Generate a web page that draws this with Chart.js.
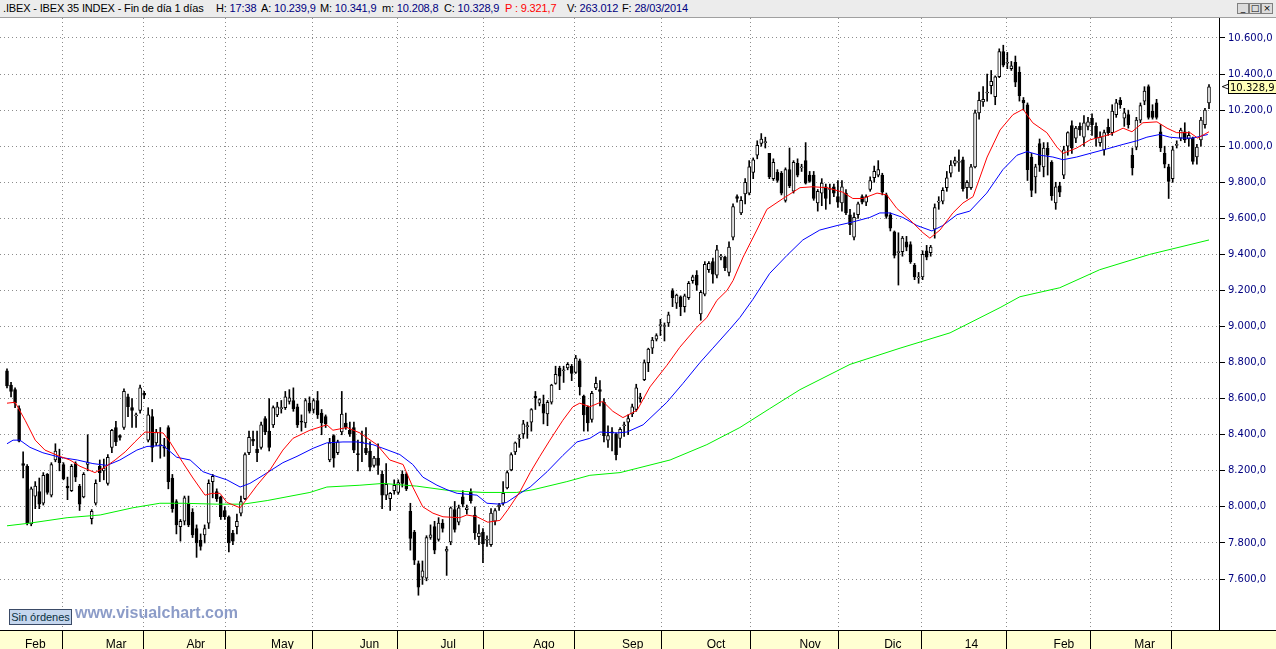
<!DOCTYPE html>
<html>
<head>
<meta charset="utf-8">
<script src="https://cdn.jsdelivr.net/npm/chart.js"></script>
<style>
  body { margin: 0; width: 1276px; height: 649px; overflow: hidden; background: #fff; position: relative; font-family: "Liberation Sans", Arial, sans-serif; }
  #head { position: absolute; left: 0; top: 0; width: 1276px; height: 17px; background: #ececec; border-bottom: 1px solid #a0a0a0; font-size: 11px; line-height: 17px; }
  #head span { position: absolute; top: 0; white-space: nowrap; color: #000; letter-spacing: -0.15px; }
  #head b { font-weight: normal; color: #000080; }
  #head .red { color: #ff0000; }
  .btn { position: absolute; top: 3px; width: 10px; height: 9px; border: 1px solid #808080; background: #dcdcdc; font: 9px "DejaVu Sans"; line-height: 9px; text-align: center; color: #000; }
  #strip { position: absolute; left: 0; top: 630px; width: 1276px; height: 19px; background: #ffffd2; border-top: 1px solid #000; box-sizing: border-box; }
  #plot { position: absolute; left: 0; top: 18px; }
  #orders { position: absolute; left: 9px; top: 609px; width: 61px; height: 14px; background: #c4d6ee; border: 1px solid #3a4a66; color: #0a3040; font-size: 11px; line-height: 14px; text-align: center; z-index: 2; }
  #url { position: absolute; left: 75px; top: 604px; color: #8c9cc8; font-weight: bold; font-size: 16px; z-index: 2; }
</style>
</head>
<body>
<div id="head">
  <span style="left:3px">.IBEX - IBEX 35 INDEX - Fin de día 1 días</span>
  <span style="left:216px">H: <b>17:38</b></span>
  <span style="left:261px">A: <b>10.239,9</b></span>
  <span style="left:320px">M: <b>10.341,9</b></span>
  <span style="left:382px">m: <b>10.208,8</b></span>
  <span style="left:444px">C: <b>10.328,9</b></span>
  <span style="left:505px" class="red">P : 9.321,7</span>
  <span style="left:567px">V: <b>263.012</b></span>
  <span style="left:622px">F: <b>28/03/2014</b></span>
  <div class="btn" style="left:1237px">_</div>
  <div class="btn" style="left:1249px">□</div>
  <div class="btn" style="left:1261px">×</div>
</div>
<div id="strip"></div>
<canvas id="plot" width="1276" height="631"></canvas>
<div id="orders">Sin órdenes</div>
<div id="url">www.visualchart.com</div>
<script>
// daily candles, 28/01/2013 .. 28/03/2014 (299 sessions)
const openVals = [
  8754,8675,8650,8545,8240,8225,7905,8060,8085,8020,
  8180,8065,8260,8275,8235,8115,8090,8240,8115,8055,
  8235,7935,8020,8225,8200,8130,8330,8440,8395,8440,
  8610,8550,8505,8535,8630,8370,8500,8355,8340,8335,
  8440,8160,8030,7890,7920,8020,7970,7880,7815,7845,
  7910,8140,8085,8055,7980,7945,7855,7890,7965,8045,
  8300,8375,8320,8330,8490,8420,8455,8510,8545,8550,
  8585,8590,8555,8475,8465,8575,8540,8590,8520,8500,
  8260,8395,8300,8415,8465,8425,8440,8295,8360,8325,
  8310,8230,8270,8180,8065,8045,8090,8080,8180,8180,
  7975,7860,7685,7610,7605,7830,7890,7820,7910,7755,
  7805,7985,7915,8055,7985,8080,7955,7835,7860,7815,
  7790,7920,8000,8020,8105,8205,8305,8375,8405,8445,
  8470,8615,8575,8570,8515,8580,8685,8770,8755,8770,
  8780,8745,8810,8615,8555,8485,8660,8650,8580,8370,
  8415,8405,8380,8450,8470,8515,8540,8600,8705,8800,
  8880,8930,9005,9000,9020,9200,9130,9165,9110,9160,
  9255,9285,9070,9180,9315,9360,9285,9385,9385,9300,
  9495,9720,9630,9735,9740,9855,9950,10015,10020,9960,
  9820,9855,9850,9700,9870,9750,9905,9880,9920,9840,
  9840,9685,9740,9775,9760,9775,9720,9685,9740,9620,
  9495,9620,9720,9690,9760,9825,9840,9840,9730,9620,
  9525,9410,9415,9470,9455,9340,9270,9275,9420,9410,
  9540,9690,9695,9770,9850,9905,9910,9925,9770,9770,
  9885,10185,10245,10295,10335,10275,10385,10525,10460,10430,
  10465,10410,10255,10230,9940,9830,10015,9885,9990,9910,
  9685,9780,9840,10000,10115,10045,10110,10050,10110,10155,
  10110,10020,9980,10105,10075,10175,10255,10155,10175,9950,
  9995,10145,10250,10330,10195,10240,10080,9960,9885,9820,
  10005,10045,10080,10040,10045,9940,10035,10120,10239.9
];
const highVals = [
  8765,8690,8660,8560,8305,8235,8110,8140,8160,8190,
  8185,8245,8350,8320,8245,8165,8235,8250,8125,8190,
  8400,7985,8150,8260,8265,8290,8430,8475,8400,8655,
  8625,8600,8520,8675,8640,8550,8540,8430,8440,8380,
  8450,8180,8040,7930,8060,8060,7990,7900,7850,7900,
  8150,8180,8100,8060,8000,7950,7870,7960,8060,8300,
  8420,8420,8420,8470,8500,8600,8560,8580,8590,8640,
  8650,8660,8570,8510,8600,8610,8600,8640,8540,8510,
  8380,8400,8370,8640,8520,8470,8470,8370,8420,8440,
  8360,8280,8350,8200,8240,8080,8150,8150,8200,8190,
  8020,7870,7700,7700,7840,7900,7920,7940,7930,7780,
  8000,8030,8010,8090,8010,8100,8000,7900,7880,7840,
  7990,7990,8020,8140,8200,8300,8360,8400,8480,8470,
  8545,8640,8600,8620,8590,8680,8780,8780,8780,8800,
  8790,8840,8820,8620,8560,8640,8720,8700,8600,8450,
  8440,8410,8440,8470,8510,8570,8680,8630,8815,8880,
  8940,8960,9040,9020,9080,9210,9180,9170,9180,9250,
  9285,9310,9200,9360,9360,9380,9450,9400,9390,9470,
  9680,9730,9720,9820,9920,9935,10030,10070,10050,9960,
  9930,9870,9860,9880,9990,9920,9930,9900,10020,9860,
  9860,9760,9820,9790,9790,9790,9810,9810,9760,9650,
  9630,9690,9730,9730,9830,9890,9920,9850,9740,9630,
  9530,9520,9500,9500,9470,9350,9300,9420,9450,9450,
  9680,9720,9770,9860,9920,9940,9980,9940,9810,9900,
  10200,10300,10330,10400,10420,10390,10540,10560,10520,10470,
  10500,10440,10270,10240,9960,9900,10040,10020,10020,9920,
  9800,9800,10000,10080,10140,10110,10130,10170,10160,10180,
  10130,10080,10090,10150,10230,10260,10270,10210,10200,9990,
  10160,10240,10330,10340,10230,10260,10120,10000,9900,10000,
  10030,10100,10130,10080,10050,10010,10160,10210,10341.9
];
const lowVals = [
  8660,8610,8550,8360,8160,7900,7895,7990,7990,8010,
  8070,8055,8250,8200,8150,8040,8085,8140,7980,8050,
  8200,7905,8010,8140,8150,8120,8300,8340,8370,8430,
  8500,8440,8440,8520,8600,8360,8250,8340,8270,8280,
  8100,7970,7850,7810,7900,7890,7830,7720,7760,7800,
  7880,8050,8030,7930,7930,7750,7790,7850,7950,8040,
  8290,8340,8250,8320,8400,8310,8440,8500,8520,8540,
  8570,8530,8440,8420,8440,8520,8520,8490,8400,8440,
  8250,8220,8290,8400,8430,8390,8300,8200,8250,8290,
  8200,8220,8180,7990,8040,7980,8070,8070,8110,8090,
  7760,7680,7510,7570,7590,7820,7740,7810,7860,7620,
  7790,7860,7900,8000,7960,8020,7820,7790,7690,7780,
  7780,7900,7980,8010,8100,8200,8290,8330,8380,8380,
  8420,8540,8560,8460,8450,8570,8680,8650,8690,8760,
  8700,8740,8620,8420,8420,8470,8650,8560,8360,8330,
  8310,8260,8330,8390,8400,8500,8530,8580,8700,8750,
  8850,8920,8950,8920,9000,9110,9100,9060,9080,9150,
  9240,9200,9035,9170,9300,9240,9270,9370,9310,9280,
  9480,9690,9620,9680,9730,9820,9930,10000,9990,9820,
  9810,9800,9730,9690,9770,9740,9830,9860,9790,9800,
  9700,9640,9670,9650,9680,9720,9660,9640,9620,9510,
  9480,9600,9680,9670,9750,9800,9830,9730,9600,9530,
  9380,9230,9390,9420,9350,9260,9240,9260,9370,9390,
  9490,9650,9680,9750,9830,9890,9860,9750,9710,9760,
  9880,10150,10220,10250,10290,10230,10380,10440,10430,10420,
  10330,10250,10200,9810,9720,9740,9860,9830,9840,9700,
  9650,9720,9820,9950,9960,10020,10060,10000,10090,10060,
  10000,10000,9950,10060,10060,10160,10210,10110,10100,9840,
  9980,10130,10230,10150,10150,10150,9970,9880,9710,9800,
  9990,10030,10020,10000,9900,9900,10000,10100,10208.8
];
const closeVals = [
  8670,8640,8575,8365,8230,7910,8100,8115,8015,8175,
  8080,8235,8310,8245,8155,8105,8225,8165,8015,8180,
  8245,7975,8130,8190,8215,8275,8425,8360,8385,8640,
  8555,8535,8505,8660,8620,8510,8330,8415,8345,8325,
  8140,7990,7900,7920,8050,7900,7845,7800,7780,7880,
  8130,8170,8045,7945,7945,7800,7810,7920,8030,8290,
  8385,8365,8300,8455,8415,8330,8550,8555,8550,8610,
  8605,8545,8455,8470,8590,8530,8590,8510,8465,8460,
  8355,8270,8360,8515,8440,8405,8315,8290,8355,8300,
  8220,8270,8230,8065,8125,8075,8120,8135,8130,8100,
  7825,7705,7555,7645,7830,7845,7760,7910,7880,7765,
  7995,7875,7995,8015,7995,8035,7855,7855,7795,7815,
  7965,7980,8010,8075,8190,8290,8355,8380,8460,8445,
  8540,8605,8595,8520,8580,8675,8735,8725,8760,8790,
  8740,8825,8665,8510,8465,8630,8685,8640,8395,8395,
  8410,8290,8430,8450,8490,8555,8660,8610,8800,8875,
  8925,8950,9010,9005,9065,9160,9175,9110,9170,9240,
  9275,9230,9190,9345,9350,9290,9425,9385,9325,9440,
  9665,9710,9700,9800,9885,9925,10005,10040,10020,9830,
  9910,9810,9740,9870,9780,9910,9840,9880,9795,9805,
  9710,9750,9795,9710,9760,9740,9690,9775,9630,9565,
  9605,9680,9690,9720,9810,9860,9870,9745,9610,9545,
  9395,9410,9490,9440,9360,9275,9270,9400,9385,9440,
  9660,9690,9755,9825,9895,9920,9910,9765,9800,9885,
  10185,10255,10260,10295,10360,10385,10525,10450,10460,10445,
  10355,10280,10240,9870,9755,9885,9895,9990,9950,9725,
  9775,9745,9980,10075,9990,10100,10090,10130,10135,10120,
  10045,10050,10075,10075,10195,10240,10230,10185,10120,9880,
  10145,10225,10305,10160,10160,10160,9990,9900,9805,9980,
  10010,10090,10035,10060,9915,9995,10145,10200,10328.9
];

// moving averages (position in sessions, value)
const redIdx = [0,2,4.5,7,9.4,13.1,15.6,18.1,21.8,24.3,26.8,29.3,31.7,34.2,38.7,40.4,43.6,46.1,49.1,50.8,
  52.8,54.5,57.8,59.5,62,65.2,68.4,70.9,75.1,79.3,80.8,84.3,87.5,91.7,94.9,98.2,100.6,103.1,105.6,108.1,
  112.3,114,116.5,119.2,122.2,124.2,127.2,129.7,132.1,134.6,137.8,140.3,142,144.5,147.7,150.2,152.7,156.2,159.4,163.6,
  166.8,171,173.5,176,178.5,180,182.5,185.9,188.4,192.4,196.6,199.8,203.3,207.2,209.7,212.2,215.7,218.1,220.6,223.9,
  227.1,228.8,231.3,234.5,237,239.5,243,246.2,249.4,251.9,254.3,257.8,260.3,261.8,265.2,268.5,273.4,276.7,278.9,281.6,
  285.1,287.6,290,293.3,295.2,298];
const redVal = [8575,8580,8480,8370,8315,8280,8260,8225,8190,8220,8260,8305,8360,8415,8410,8360,8245,8160,8065,8075,
  8075,8025,7995,8045,8120,8205,8315,8380,8425,8455,8425,8440,8410,8345,8260,8235,8110,8000,7965,7945,
  7940,7955,7945,7915,7925,7985,8085,8190,8280,8370,8480,8555,8575,8555,8585,8530,8495,8535,8665,8785,
  8885,8995,9050,9145,9200,9255,9385,9535,9650,9710,9770,9775,9770,9745,9710,9710,9740,9730,9655,9590,
  9520,9490,9535,9630,9685,9720,9940,10090,10175,10205,10130,10075,9995,9960,9990,10035,10065,10100,10080,10130,
  10135,10100,10075,10075,10045,10080];
const blueIdx = [0,1.5,3.2,5.7,8.9,13.1,17.4,21.3,24.8,28,32.2,34.7,38.7,42.1,45.4,48.6,51.1,54.5,57.8,60.2,
  63.5,68.4,71.9,75.9,79.3,83.3,86.8,90.7,93.2,97.4,100.6,103.1,106.6,109.1,111.6,116.5,119,122.2,123.9,127.2,
  129.7,133.9,137.8,141.3,144.5,147,151.2,153.7,157.7,163.6,167.6,171.8,175,179.2,181.7,184.9,189.1,193.4,197.3,201.5,
  205.8,209.7,213.9,216.4,218.9,222.1,225.6,229.3,232,235.5,238.7,242.9,246.9,250.4,252.9,256.1,259.3,261.8,265.2,268.5,
  272.7,276.7,280.1,282.6,285.8,288.3,290.8,294,297.7];
const blueVal = [8350,8370,8370,8330,8300,8275,8260,8240,8230,8260,8315,8335,8340,8275,8260,8195,8175,8150,8110,8130,
  8175,8245,8280,8325,8355,8360,8360,8345,8325,8290,8235,8165,8120,8095,8075,8065,8020,8015,8025,8075,
  8110,8195,8285,8360,8380,8415,8410,8415,8455,8580,8685,8800,8880,8985,9050,9150,9295,9395,9480,9535,
  9560,9580,9605,9630,9630,9605,9560,9530,9560,9620,9640,9740,9870,9950,9970,9950,9940,9925,9940,9960,
  9985,10010,10030,10050,10065,10050,10045,10045,10065];
const greenIdx = [0,5.7,14.9,23.1,31.2,37.9,43.6,52.1,58.5,64.5,75.1,79.3,87.5,93.2,101.6,109.8,118,126.4,130.4,138.8,
  144.5,152,164.4,173.5,181.7,189.1,196.6,209,221.4,233.8,246.2,251.1,261,270.9,283.3,298];
const greenVal = [7895,7910,7940,7955,7995,8020,8020,8015,8015,8035,8080,8110,8120,8130,8115,8090,8080,8080,8095,8140,
  8175,8190,8260,8345,8440,8545,8650,8790,8880,8965,9105,9165,9215,9315,9400,9480];

// first session of each month and its label
const monthStartIdx = [4,24,44,65,87,107,130,152,173,196,217,237,259,279];
const monthLabels = ['Feb','Mar','Abr','May','Jun','Jul','Ago','Sep','Oct','Nov','Dic','14','Feb','Mar'];
const priceTicks = [7600,7800,8000,8200,8400,8600,8800,9000,9200,9400,9600,9800,10000,10200,10400,10600];

function fmtAxis(v) {
  return Math.floor(v / 1000) + '.' + String(v % 1000).padStart(3, '0') + ',0';
}
function fmtPrice(v) {
  const whole = Math.floor(v);
  const dec = Math.round((v - whole) * 10);
  return Math.floor(whole / 1000) + '.' + String(whole % 1000).padStart(3, '0') + ',' + dec;
}

const lastPrice = {
  id: 'lastPrice',
  afterDraw(chart) {
    const { ctx, chartArea, scales: { y } } = chart;
    const v = closeVals[closeVals.length - 1];
    const py = Math.round(y.getPixelForValue(v));
    const bx = chartArea.right + 9;
    ctx.save();
    ctx.fillStyle = '#ffffb8';
    ctx.fillRect(bx, py - 7, 60, 14);
    ctx.strokeStyle = '#000';
    ctx.lineWidth = 1;
    ctx.strokeRect(bx + 0.5, py - 6.5, 60, 13);
    ctx.fillStyle = '#000';
    ctx.font = '10px "DejaVu Sans"';
    ctx.textBaseline = 'middle';
    ctx.fillText(fmtPrice(v), bx + 2, py + 1);
    ctx.fillText('<', chartArea.right + 2, py);
    ctx.restore();
  }
};

new Chart(document.getElementById('plot'), {
  type: 'bar',
  data: {
    datasets: [
      { type: 'line', data: redIdx.map((x, k) => ({ x, y: redVal[k] })), borderColor: '#ff0000', borderWidth: 1, pointRadius: 0, order: 0 },
      { type: 'line', data: blueIdx.map((x, k) => ({ x, y: blueVal[k] })), borderColor: '#0000ff', borderWidth: 1, pointRadius: 0, order: 0 },
      { type: 'line', data: greenIdx.map((x, k) => ({ x, y: greenVal[k] })), borderColor: '#00f000', borderWidth: 1, pointRadius: 0, order: 0 },
      {
        type: 'bar',
        data: closeVals.map((c, i) => ({ x: i, y: [openVals[i], c] })),
        backgroundColor: closeVals.map((c, i) => c >= openVals[i] ? '#ffffff' : '#000000'),
        borderColor: '#000',
        borderWidth: 1,
        borderSkipped: false,
        barThickness: 3,
        minBarLength: 1,
        grouped: false,
        order: 1
      },
      {
        type: 'bar',
        data: highVals.map((h, i) => ({ x: i, y: [lowVals[i], h] })),
        backgroundColor: '#000',
        barThickness: 1,
        grouped: false,
        order: 2
      }
    ]
  },
  options: {
    responsive: false,
    animation: false,
    events: [],
    layout: { padding: 0 },
    plugins: { legend: { display: false }, tooltip: { enabled: false } },
    scales: {
      x: {
        type: 'linear',
        min: -1.735,
        max: 300.48,
        offset: false,
        afterBuildTicks: s => { s.ticks = monthStartIdx.map(v => ({ value: v - 0.27 })); },
        afterFit: s => { s.height = 19; s.paddingLeft = 0; s.paddingRight = 0; },
        ticks: {
          autoSkip: false, maxRotation: 0, align: 'start', labelOffset: 3, padding: -12,
          color: '#000', font: { family: '"Liberation Sans", Arial', size: 12 },
          callback: (v, i) => monthLabels[i]
        },
        grid: { color: '#8c8c8c', tickColor: '#000', tickLength: 19, tickBorderDash: [] },
        border: { display: false, dash: [1, 3] }
      },
      y: {
        type: 'linear',
        position: 'right',
        min: 7317.2,
        max: 10710.9,
        afterBuildTicks: s => { s.ticks = priceTicks.map(v => ({ value: v })); },
        afterFit: s => { s.width = 57; s.paddingTop = 0; s.paddingBottom = 0; },
        ticks: {
          autoSkip: false, padding: 3, color: '#000080',
          font: { family: '"DejaVu Sans"', size: 10 },
          callback: v => fmtAxis(v)
        },
        grid: { color: '#8c8c8c', tickColor: '#000', tickLength: 6, tickBorderDash: [] },
        border: { display: true, color: '#000', width: 1, dash: [1, 3] }
      }
    }
  },
  plugins: [lastPrice]
});
</script>
</body>
</html>
